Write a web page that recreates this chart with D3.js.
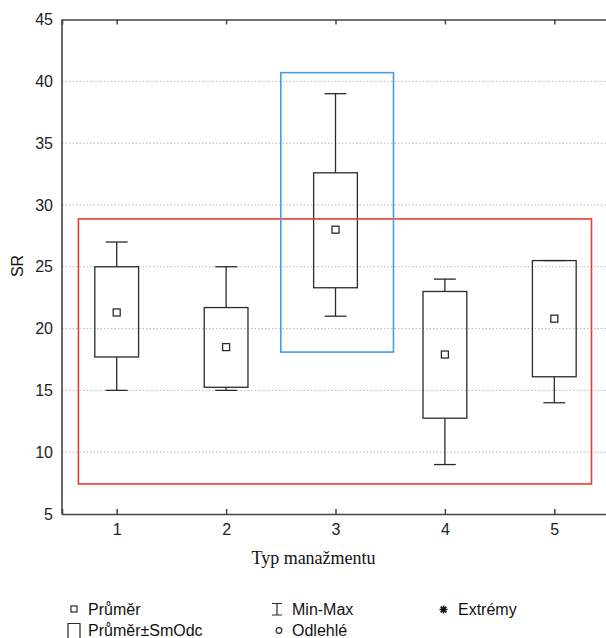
<!DOCTYPE html>
<html>
<head>
<meta charset="utf-8">
<script src="https://cdn.jsdelivr.net/npm/d3@7/dist/d3.min.js"></script>
<style>
  html, body { margin: 0; padding: 0; background: #fff; }
  svg { display: block; }
</style>
</head>
<body>
<div id="chart"></div>
<script>
const categories = [1, 2, 3, 4, 5];
const means  = [21.3, 18.5, 28.0, 17.9, 20.8];
const sdLow  = [17.7, 15.25, 23.3, 12.75, 16.1];
const sdHigh = [25.0, 21.7, 32.6, 23.0, 25.5];
const mins   = [15, 15, 21, 9, 14];
const maxs   = [27, 25, 39, 24, 25.5];
const yTicks = [5, 10, 15, 20, 25, 30, 35, 40, 45];
const xLabel = "Typ manažmentu";
const yLabel = "SR";
const legendItems = ["Průměr", "Průměr±SmOdc", "Min-Max", "Odlehlé", "Extrémy"];
// highlight rectangles (in data units)
const redRect  = {x0: 0.65, x1: 5.34, y0: 7.43, y1: 28.87};
const blueRect = {x0: 2.5,  x1: 3.53, y0: 18.1, y1: 40.7};

const W = 606, H = 638;
const svg = d3.select("#chart").append("svg").attr("width", W).attr("height", H);

const x = d3.scaleLinear().domain([0.5, 5.5]).range([62, 609]);
const y = d3.scaleLinear().domain([5, 45]).range([514, 19.5]);

const boxW = 0.4, capW = 0.2;
const dark = "#2b2b2b";

// gridlines
svg.append("g").selectAll("line").data(yTicks.filter(t => t > 5 && t < 45)).join("line")
  .attr("x1", x(0.5)).attr("x2", W)
  .attr("y1", d => y(d)).attr("y2", d => y(d))
  .attr("stroke", "#b8b8b8").attr("stroke-width", 1).attr("stroke-dasharray", "1.5,2");

// y tick labels
svg.append("g").selectAll("text").data(yTicks).join("text")
  .attr("x", 53).attr("y", d => y(d)).attr("dy", "0.35em")
  .attr("text-anchor", "end")
  .attr("font-family", "Liberation Sans, Arial, sans-serif").attr("font-size", 16)
  .attr("fill", "#222").text(d => d);

// x axis (bottom) with inward ticks
const xAxisB = d3.axisBottom(x).tickValues(categories).tickSize(-5).tickPadding(10).tickFormat(d3.format("d"));
const gB = svg.append("g").attr("transform", `translate(0,${y(5)})`).call(xAxisB);
gB.select(".domain").attr("stroke", "#444").attr("stroke-width", 1.6);
gB.selectAll(".tick line").attr("stroke", "#444").attr("stroke-width", 1.5);
gB.selectAll(".tick text").attr("font-family", "Liberation Sans, Arial, sans-serif").attr("font-size", 16).attr("fill", "#222");

// x axis (top) with inward ticks
const xAxisT = d3.axisTop(x).tickValues(categories).tickSize(-5).tickFormat("");
const gT = svg.append("g").attr("transform", `translate(0,${y(45)})`).call(xAxisT);
gT.select(".domain").attr("stroke", "#444").attr("stroke-width", 1.6);
gT.selectAll(".tick line").attr("stroke", "#444").attr("stroke-width", 1.5);

// left axis line
svg.append("line").attr("x1", x(0.5)).attr("x2", x(0.5)).attr("y1", y(45)).attr("y2", y(5))
  .attr("stroke", "#444").attr("stroke-width", 1.6);

// boxes
const g = svg.append("g");
categories.forEach((c, i) => {
  g.append("line").attr("x1", x(c)).attr("x2", x(c)).attr("y1", y(sdHigh[i])).attr("y2", y(maxs[i]))
    .attr("stroke", dark).attr("stroke-width", 1.3);
  g.append("line").attr("x1", x(c)).attr("x2", x(c)).attr("y1", y(sdLow[i])).attr("y2", y(mins[i]))
    .attr("stroke", dark).attr("stroke-width", 1.3);
  g.append("line").attr("x1", x(c - capW / 2)).attr("x2", x(c + capW / 2)).attr("y1", y(maxs[i])).attr("y2", y(maxs[i]))
    .attr("stroke", dark).attr("stroke-width", 1.3);
  g.append("line").attr("x1", x(c - capW / 2)).attr("x2", x(c + capW / 2)).attr("y1", y(mins[i])).attr("y2", y(mins[i]))
    .attr("stroke", dark).attr("stroke-width", 1.3);
  g.append("rect").attr("x", x(c - boxW / 2)).attr("width", x(c + boxW / 2) - x(c - boxW / 2))
    .attr("y", y(sdHigh[i])).attr("height", y(sdLow[i]) - y(sdHigh[i]))
    .attr("fill", "none").attr("stroke", dark).attr("stroke-width", 1.3);
  g.append("rect").attr("x", x(c) - 3.5).attr("y", y(means[i]) - 3.5).attr("width", 7).attr("height", 7)
    .attr("fill", "#fff").attr("stroke", dark).attr("stroke-width", 1.3);
});

// highlight rectangles
svg.append("rect").attr("x", x(redRect.x0)).attr("y", y(redRect.y1))
  .attr("width", x(redRect.x1) - x(redRect.x0)).attr("height", y(redRect.y0) - y(redRect.y1))
  .attr("fill", "none").attr("stroke", "#ee3b30").attr("stroke-width", 1.6);
svg.append("rect").attr("x", x(blueRect.x0)).attr("y", y(blueRect.y1))
  .attr("width", x(blueRect.x1) - x(blueRect.x0)).attr("height", y(blueRect.y0) - y(blueRect.y1))
  .attr("fill", "none").attr("stroke", "#4a9be2").attr("stroke-width", 1.6);

// axis titles
svg.append("text").attr("x", 313.5).attr("y", 564).attr("text-anchor", "middle")
  .attr("font-family", "Liberation Serif, Times New Roman, serif").attr("font-size", 18)
  .attr("fill", "#111").text(xLabel);
svg.append("text").attr("transform", "translate(23,266) rotate(-90)").attr("text-anchor", "middle")
  .attr("font-family", "Liberation Sans, Arial, sans-serif").attr("font-size", 16)
  .attr("fill", "#111").text(yLabel);

// legend
const lf = "Liberation Sans, Arial, sans-serif";
const leg = svg.append("g").attr("font-family", lf).attr("font-size", 16).attr("fill", "#111");
const c1 = 74, t1 = 88;
// Průměr
leg.append("rect").attr("x", c1 - 3).attr("y", 606).attr("width", 6).attr("height", 6)
  .attr("fill", "#fff").attr("stroke", dark).attr("stroke-width", 1.2);
leg.append("text").attr("x", t1).attr("y", 615).text(legendItems[0]);
// Průměr±SmOdc
leg.append("path").attr("d", `M${c1 - 6},638 V623.5 H${c1 + 6} V638`)
  .attr("fill", "none").attr("stroke", dark).attr("stroke-width", 1.2);
leg.append("text").attr("x", t1).attr("y", 636).text(legendItems[1]);
// Min-Max
leg.append("path").attr("d", "M272,603.5 H282 M277,603.5 V615 M272,615 H282")
  .attr("fill", "none").attr("stroke", dark).attr("stroke-width", 1.2);
leg.append("text").attr("x", 292).attr("y", 615).text(legendItems[2]);
// Odlehlé
leg.append("circle").attr("cx", 279).attr("cy", 630.5).attr("r", 2.8)
  .attr("fill", "none").attr("stroke", dark).attr("stroke-width", 1.2);
leg.append("text").attr("x", 292).attr("y", 636).text(legendItems[3]);
// Extrémy (asterisk)
const ax = 443.5, ay = 609.5, ar = 4;
leg.append("path")
  .attr("d", [0, 45, 90, 135].map(a => {
      const r = a * Math.PI / 180, dx = ar * Math.cos(r), dy = ar * Math.sin(r);
      return `M${ax - dx},${ay - dy} L${ax + dx},${ay + dy}`;
    }).join(" "))
  .attr("stroke", "#111").attr("stroke-width", 1.6).attr("fill", "none");
leg.append("text").attr("x", 458).attr("y", 615).text(legendItems[4]);
</script>
</body>
</html>
